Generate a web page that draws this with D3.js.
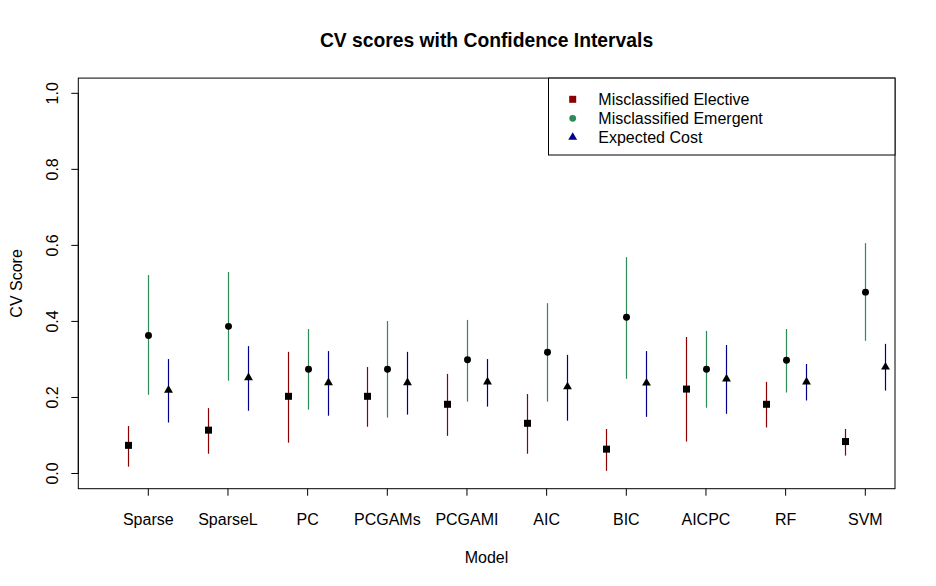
<!DOCTYPE html>
<html>
<head>
<meta charset="utf-8">
<script src="https://cdn.jsdelivr.net/npm/d3@7"></script>
<style>
  body { margin: 0; background: #fff; }
  text { font-family: "Liberation Sans", Arial, sans-serif; fill: #000; }
</style>
</head>
<body>
<svg id="chart" width="936" height="586"></svg>
<script>
const models = ["Sparse","SparseL","PC","PCGAMs","PCGAMI","AIC","BIC","AICPC","RF","SVM"];
const electiveMean = [0.074,0.114,0.203,0.203,0.182,0.132,0.064,0.222,0.182,0.084];
const electiveLo   = [0.018,0.052,0.081,0.123,0.099,0.052,0.007,0.084,0.121,0.047];
const electiveHi   = [0.125,0.172,0.320,0.280,0.262,0.209,0.117,0.359,0.241,0.117];
const emergentMean = [0.363,0.387,0.274,0.274,0.299,0.319,0.411,0.274,0.298,0.477];
const emergentLo   = [0.207,0.244,0.168,0.147,0.189,0.189,0.249,0.173,0.213,0.349];
const emergentHi   = [0.522,0.530,0.380,0.401,0.404,0.448,0.569,0.375,0.380,0.606];
const costMean     = [0.219,0.252,0.239,0.239,0.241,0.228,0.238,0.249,0.241,0.280];
const costLo       = [0.134,0.165,0.152,0.155,0.176,0.139,0.149,0.157,0.192,0.218];
const costHi       = [0.301,0.335,0.322,0.320,0.301,0.312,0.322,0.338,0.288,0.341];
const yTicks = [0.0,0.2,0.4,0.6,0.8,1.0];
const legendLabels = ["Misclassified Elective","Misclassified Emergent","Expected Cost"];
const seriesColors = ["#8B0000","#2E8B57","#00008B"];

(function () {
const svg = d3.select("#chart");
const pLeft = 78.3, pRight = 895, pTop = 78.1, pBottom = 488.7;

const x = d3.scaleLinear().domain([0, 9]).range([148.3, 865.3]);
const y = d3.scaleLinear().domain([-0.04, 1.04]).range([pBottom, pTop]);

// Title
svg.append("text").attr("x", 486.5).attr("y", 47).attr("text-anchor", "middle")
  .style("font-size", "19.3px").style("font-weight", "bold")
  .text("CV scores with Confidence Intervals");

const series = [
  {mean: electiveMean, lo: electiveLo, hi: electiveHi, off: -0.25, sym: d3.symbolSquare, size: 49},
  {mean: emergentMean, lo: emergentLo, hi: emergentHi, off: 0, sym: d3.symbolCircle, size: 38},
  {mean: costMean, lo: costLo, hi: costHi, off: 0.25, sym: d3.symbolTriangle, size: 34}
];

series.forEach((s, si) => {
  const g = svg.append("g");
  g.selectAll("line").data(models).join("line")
    .attr("x1", (d, i) => Math.round(x(i + s.off)) + 0.5)
    .attr("x2", (d, i) => Math.round(x(i + s.off)) + 0.5)
    .attr("y1", (d, i) => y(s.lo[i]))
    .attr("y2", (d, i) => y(s.hi[i]))
    .attr("stroke", seriesColors[si]).attr("stroke-width", 1.2);
  g.selectAll("path").data(models).join("path")
    .attr("transform", (d, i) => `translate(${Math.round(x(i + s.off)) + 0.5},${y(s.mean[i])})`)
    .attr("d", d3.symbol().type(s.sym).size(s.size))
    .attr("fill", "#000");
});

// Plot box
svg.append("rect").attr("x", pLeft).attr("y", pTop).attr("width", pRight - pLeft).attr("height", pBottom - pTop)
  .attr("fill", "none").attr("stroke", "#000").attr("stroke-width", 1);

// X axis
const xAxis = svg.append("g").attr("transform", `translate(0,${pBottom})`);
xAxis.selectAll("line").data(models).join("line")
  .attr("x1", (d, i) => x(i)).attr("x2", (d, i) => x(i))
  .attr("y1", 0).attr("y2", 7).attr("stroke", "#000");
xAxis.selectAll("text").data(models).join("text")
  .attr("x", (d, i) => x(i)).attr("y", 36).attr("text-anchor", "middle")
  .style("font-size", "16px").text(d => d);

// Y axis
const yAxis = svg.append("g").attr("transform", `translate(${pLeft},0)`);
yAxis.append("line").attr("x1", 0).attr("x2", 0).attr("y1", y(0)).attr("y2", y(1)).attr("stroke", "#000");
yAxis.selectAll("line.t").data(yTicks).join("line").attr("class", "t")
  .attr("x1", 0).attr("x2", -7).attr("y1", d => y(d)).attr("y2", d => y(d)).attr("stroke", "#000");
yAxis.selectAll("text").data(yTicks).join("text")
  .attr("transform", d => `translate(-20,${y(d)}) rotate(-90)`)
  .attr("text-anchor", "middle").style("font-size", "16px")
  .text(d => d.toFixed(1));

// Axis titles
svg.append("text").attr("x", 486.5).attr("y", 563).attr("text-anchor", "middle")
  .style("font-size", "16px").text("Model");
svg.append("text").attr("transform", `translate(22,${(pTop + pBottom) / 2}) rotate(-90)`)
  .attr("text-anchor", "middle").style("font-size", "16px").text("CV Score");

// Legend
const lg = svg.append("g");
lg.append("rect").attr("x", 548.5).attr("y", pTop).attr("width", pRight - 548.5).attr("height", 155 - pTop)
  .attr("fill", "#fff").attr("stroke", "#000");
const legSyms = [d3.symbolSquare, d3.symbolCircle, d3.symbolTriangle];
const legSizes = [49, 36, 34];
legendLabels.forEach((lab, i) => {
  const cy = 99.3 + i * 19;
  lg.append("path").attr("transform", `translate(572.7,${cy})`)
    .attr("d", d3.symbol().type(legSyms[i]).size(legSizes[i])).attr("fill", seriesColors[i]);
  lg.append("text").attr("x", 598.3).attr("y", cy + 5.5).style("font-size", "16px").text(lab);
});
})();
</script>
</body>
</html>
